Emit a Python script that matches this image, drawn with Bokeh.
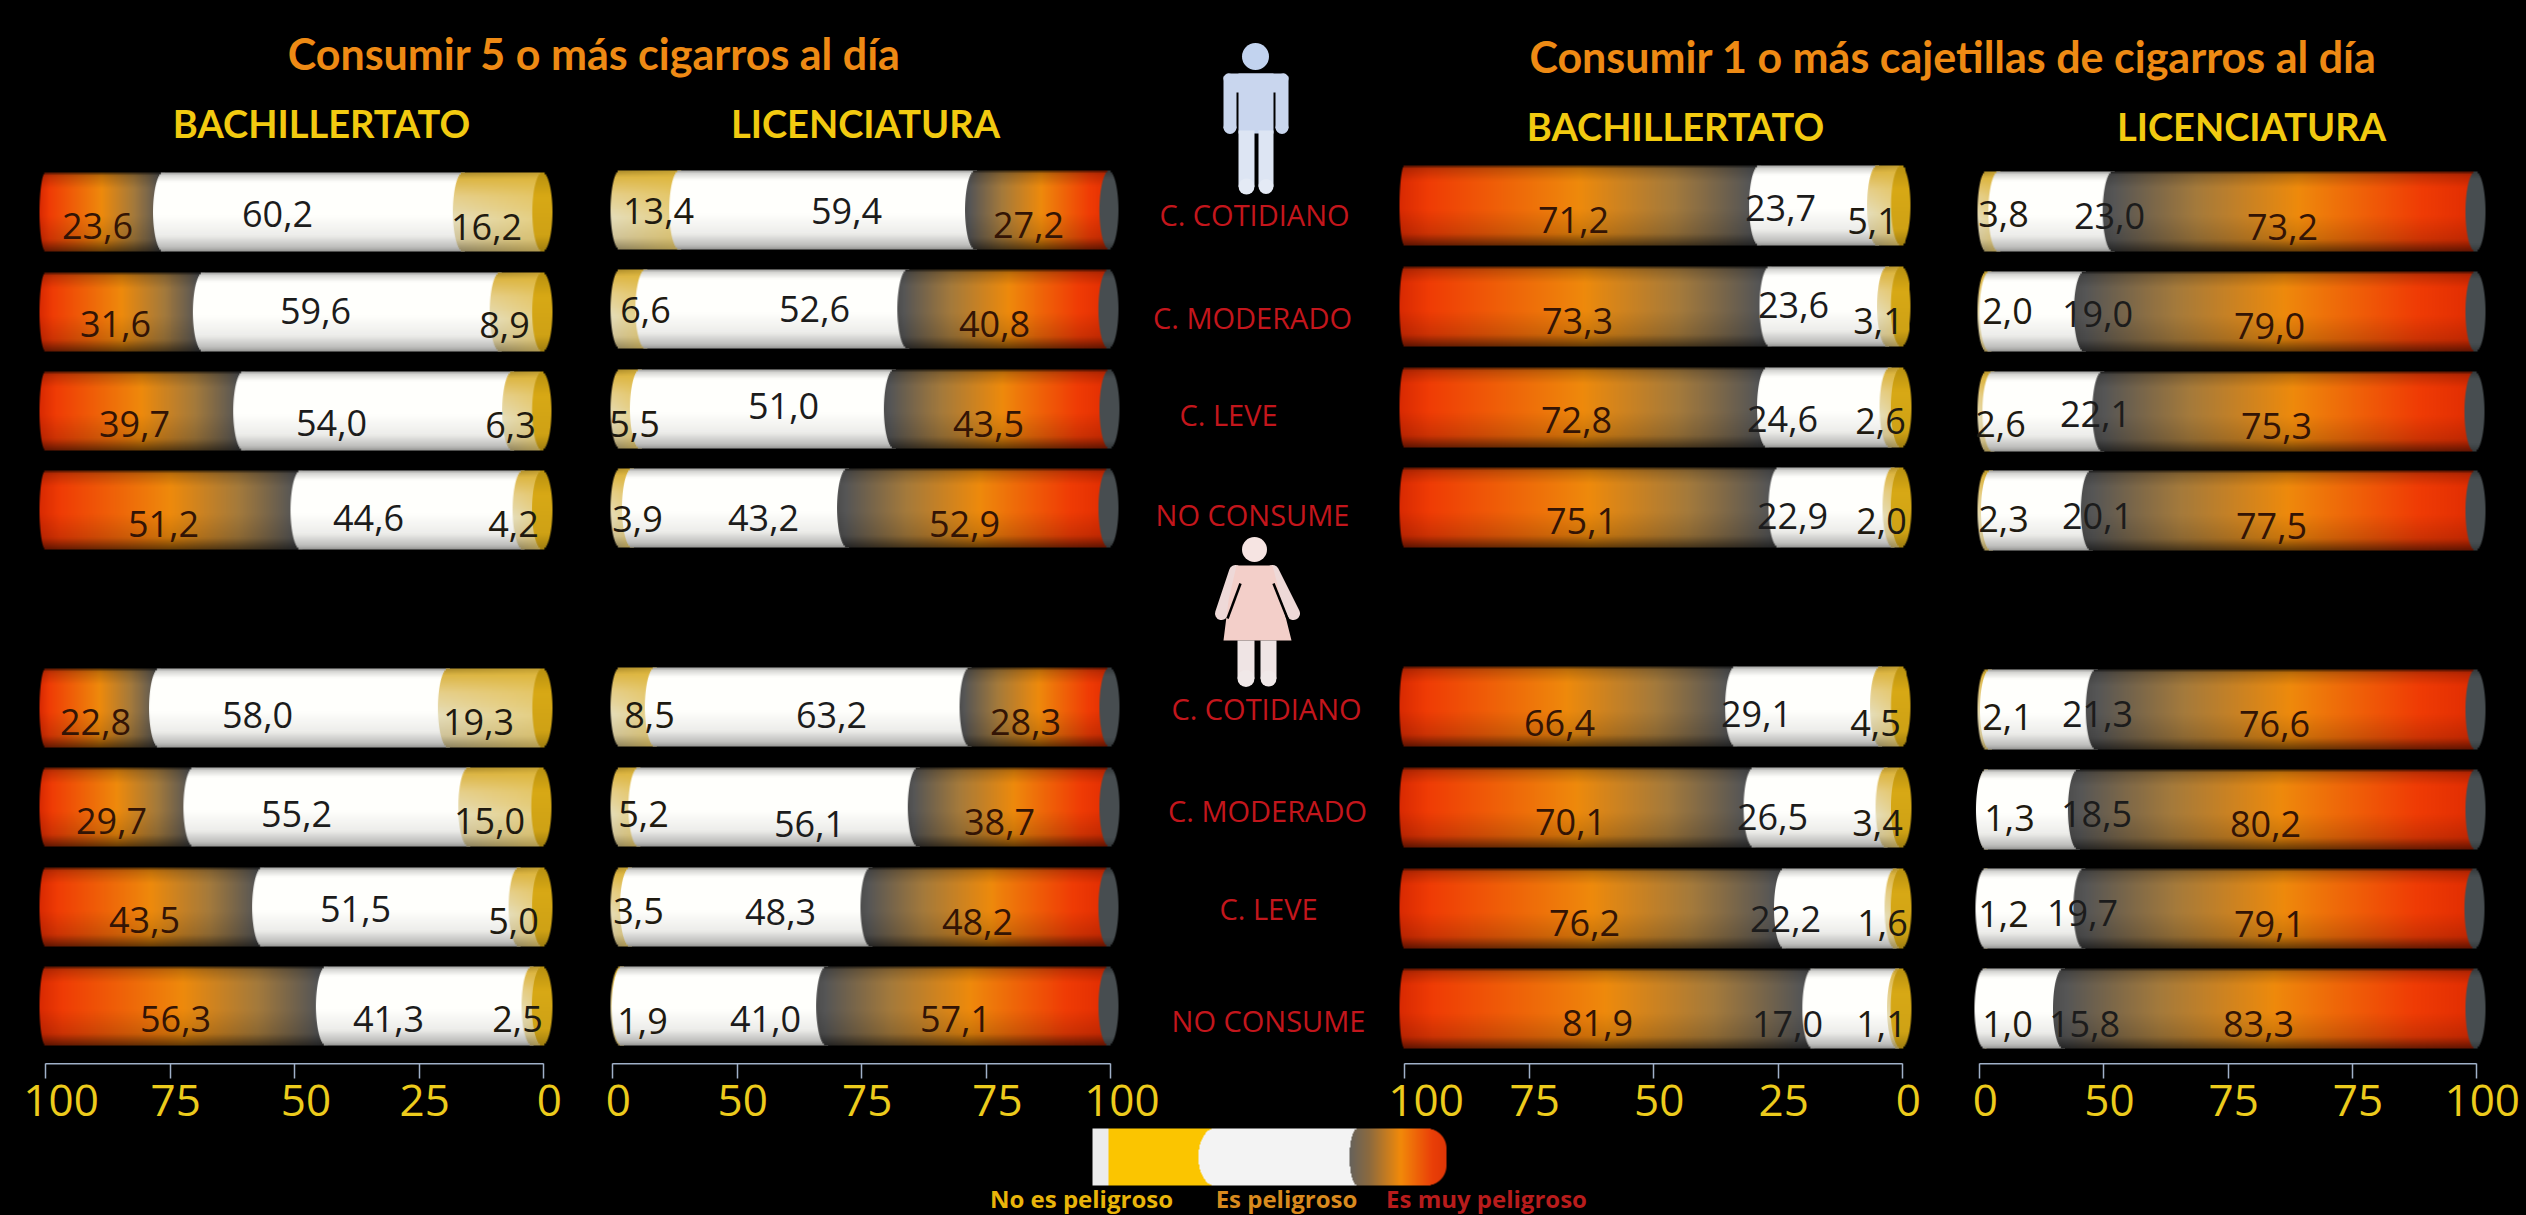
import numpy as np
from bokeh.plotting import figure
from bokeh.layouts import column, row
from bokeh.models import Range1d, FixedTicker, Spacer
from bokeh.core.properties import value
from bokeh.embed import file_html
from bokeh.resources import INLINE

# ---------- DATA ----------
consumo = ["C. COTIDIANO", "C. MODERADO", "C. LEVE", "NO CONSUME"] * 2
# each: [es muy peligroso, es peligroso, no es peligroso]
cig5_bach = [[23.6, 60.2, 16.2], [31.6, 59.6, 8.9], [39.7, 54.0, 6.3], [51.2, 44.6, 4.2],
             [22.8, 58.0, 19.3], [29.7, 55.2, 15.0], [43.5, 51.5, 5.0], [56.3, 41.3, 2.5]]
cig5_lic = [[27.2, 59.4, 13.4], [40.8, 52.6, 6.6], [43.5, 51.0, 5.5], [52.9, 43.2, 3.9],
            [28.3, 63.2, 8.5], [38.7, 56.1, 5.2], [48.2, 48.3, 3.5], [57.1, 41.0, 1.9]]
caj_bach = [[71.2, 23.7, 5.1], [73.3, 23.6, 3.1], [72.8, 24.6, 2.6], [75.1, 22.9, 2.0],
            [66.4, 29.1, 4.5], [70.1, 26.5, 3.4], [76.2, 22.2, 1.6], [81.9, 17.0, 1.1]]
caj_lic = [[73.2, 23.0, 3.8], [79.0, 19.0, 2.0], [75.3, 22.1, 2.6], [77.5, 20.1, 2.3],
           [76.6, 21.3, 2.1], [80.2, 18.5, 1.3], [79.1, 19.7, 1.2], [83.3, 15.8, 1.0]]
ticks_izq = ["100", "75", "50", "25", "0"]
ticks_der = ["0", "50", "75", "75", "100"]
titulos = ["Consumir  5 o más cigarros al día", "Consumir  1  o más cajetillas de cigarros al día"]
niveles = ["BACHILLERTATO", "LICENCIATURA"]
leyenda = ["No es peligroso", "Es peligroso", "Es muy peligroso"]

# ---------- LAYOUT (page pixels) ----------
TOP, MAIN_B, STRIP_B, END = 0, 1063, 1127, 1215
FULL_L, FULL_R = 0, 2526
panels = [
    dict(name="p1", a=45, b=543, flip=True, data=cig5_bach, first_b=6, first_off=0, cap="gold",
         tops=[172, 272, 371, 470, 668, 767, 867, 966], h=79,
         lx=[[97, 277, 486], [115, 315, 504], [134, 331, 510], [163, 368, 513], [95, 257, 478], [111, 296, 489], [144, 355, 513], [175, 388, 517]],
         ly=[[225, 213, 226], [323, 310, 324], [423, 422, 424], [523, 517, 523], [721, 714, 721], [820, 813, 820], [919, 908, 920], [1018, 1018, 1018]]),
    dict(name="p2", a=612, b=1110, flip=False, data=cig5_lic, first_b=9, first_off=7, cap="grey",
         tops=[170, 269, 369, 468, 667, 767, 867, 966], h=79,
         lx=[[1028, 846, 658], [994, 814, 645], [988, 783, 634], [964, 763, 637], [1025, 831, 649], [999, 809, 643], [977, 780, 638], [955, 765, 642]],
         ly=[[224, 210, 210], [323, 308, 309], [423, 405, 423], [523, 517, 518], [721, 714, 714], [821, 823, 813], [921, 911, 910], [1018, 1018, 1020]]),
    dict(name="p3", a=1404, b=1902, flip=True, data=caj_bach, first_b=5, first_off=0, cap="gold",
         tops=[165, 266, 367, 467, 666, 767, 868, 968], h=80,
         lx=[[1573, 1780, 1872], [1577, 1793, 1878], [1576, 1782, 1880], [1581, 1792, 1881], [1559, 1756, 1875], [1570, 1772, 1877], [1584, 1785, 1882], [1597, 1787, 1881]],
         ly=[[219, 207, 220], [320, 304, 320], [419, 418, 420], [520, 515, 520], [722, 713, 722], [821, 816, 822], [922, 918, 922], [1022, 1023, 1023]]),
    dict(name="p4", a=1979, b=2476, flip=False, data=caj_lic, first_b=8, first_off=6, cap="grey",
         tops=[171, 271, 371, 470, 669, 769, 868, 968], h=80,
         lx=[[2282, 2109, 2003], [2269, 2097, 2007], [2276, 2095, 2000], [2271, 2097, 2003], [2274, 2097, 2007], [2265, 2096, 2009], [2269, 2082, 2003], [2258, 2084, 2007]],
         ly=[[226, 215, 213], [325, 313, 310], [425, 413, 423], [525, 515, 518], [723, 713, 716], [823, 813, 817], [923, 912, 913], [1023, 1023, 1023]]),
]
center_x = [1254, 1252, 1228, 1252, 1266, 1267, 1268, 1268]
center_y = [214, 317, 414, 514, 708, 810, 908, 1020]


def hx(c):
    c = c.lstrip("#")
    return [int(c[i:i + 2], 16) for i in (0, 2, 4)]


def ramp(t, pos, cols):
    arr = np.array([hx(c) for c in cols], float)
    return np.stack([np.interp(t, pos, arr[:, i]) for i in range(3)], axis=-1)


ROWS = 40
V = (np.arange(ROWS) + .5) / ROWS


def seg_image(kind, flip, left_edge_top, bulge, end_px, cap=None):
    """kind: muy/es/no. Returns (rgba array, left px, width px)."""
    px0 = left_edge_top - bulge
    px1 = end_px + (10 if cap else 2)
    W = max(2, int(np.ceil(px1 - px0)))
    X = px0 + (np.arange(W) + .5) * (px1 - px0) / W
    XX, VV = np.meshgrid(X, V)
    SS = np.sqrt(np.clip(1 - ((VV - .5) * 2) ** 2, 0, 1))
    U = np.clip((XX - px0) / max(1.0, end_px - px0), 0, 1)
    if kind == "muy":
        if flip:
            col = ramp(U, [0, .08, .5, .76, .97, 1], ["#d92a02", "#f03c05", "#ee8a0c", "#a47a3c", "#565656", "#4e4e4e"])
        else:
            col = ramp(U, [0, .03, .25, .52, .85, 1], ["#4e4e4e", "#565656", "#a47a3c", "#ee8a0c", "#f03c05", "#e02c02"])
        shade = np.interp(VV, [0, .04, .2, .55, .85, 1], [.3, .8, 1, 1, .85, .42])
        col = col * shade[..., None]
    elif kind == "es":
        shade = np.interp(VV, [0, .04, .12, .55, .8, .95, 1], [.62, .85, 1, 1, .93, .74, .58])
        col = np.array([255., 255., 252.])[None, None, :] * shade[..., None]
    else:
        cream = ramp(VV, [0, .08, .3, .6, .85, 1], ["#a8882a", "#dcb545", "#e6cf8a", "#e6deba", "#d0c49c", "#8a8060"])
        gold = np.array(hx("#e3bb38"), float)
        mix = (U * .45)[..., None]
        col = cream * (1 - mix) + gold * mix
    alpha = np.clip(XX - (left_edge_top - bulge * SS) + .5, 0, 1)
    if cap:
        c = end_px - 2
        hw = 10
        outer = c + hw * SS
        inner = c - hw * SS
        alpha = alpha * np.clip(outer - XX + .5, 0, 1)
        if cap == "gold":
            cc = ramp(VV, [0, .3, .8, 1], ["#b8900f", "#d8a915", "#cfa215", "#a07e10"])
        else:
            cc = ramp(VV, [0, .1, .9, 1], ["#33383a", "#474d50", "#474d50", "#33383a"])
        w = np.clip(XX - inner + .5, 0, 1)[..., None]
        col = col * (1 - w) + cc * w
    rgba = np.zeros(XX.shape + (4,), dtype=np.uint8)
    rgba[..., :3] = np.clip(col, 0, 255).astype(np.uint8)
    rgba[..., 3] = (alpha * 255).astype(np.uint8)
    out = np.frombuffer(rgba[::-1].tobytes(), dtype=np.uint32).reshape(ROWS, W)
    return out, px0, px1 - px0


# ---------- MAIN FIGURE ----------
BG = "#000000"
main = figure(width=FULL_R - FULL_L, height=MAIN_B - TOP, output_backend="svg", toolbar_location=None,
              x_range=Range1d(FULL_L, FULL_R), y_range=Range1d(-MAIN_B, -TOP), min_border=0,
              x_axis_location=None, y_axis_location=None, background_fill_color=BG, border_fill_color=BG,
              outline_line_color=None)
main.grid.visible = False

for P in panels:
    k = (P["b"] - P["a"]) / 100.0
    main.extra_x_ranges[P["name"]] = Range1d((FULL_L - P["a"]) / k, (FULL_R - P["a"]) / k)
    imgs, xs, ys, dws, dhs = [], [], [], [], []
    tx, ty, tt, tc = [], [], [], []
    for r, vals in enumerate(P["data"]):
        order = [0, 1, 2] if P["flip"] else [2, 1, 0]
        kinds = ["muy", "es", "no"]
        cum = 0.0
        for j, idx in enumerate(order):
            v = vals[idx]
            start = cum
            end = 100.0 if j == 2 else cum + v
            cum += v
            spx, epx = P["a"] + start * k, P["a"] + end * k
            bulge = P["first_b"] if j == 0 else 10
            off = P["first_off"] if j == 0 else 0
            arr, l, w = seg_image(kinds[idx], P["flip"], spx + off, bulge, epx, cap=P["cap"] if j == 2 else None)
            imgs.append(arr)
            xs.append((l - P["a"]) / k)
            dws.append(w / k)
            ys.append(-(P["tops"][r] + P["h"]))
            dhs.append(P["h"])
        for idx in range(3):
            tx.append((P["lx"][r][idx] - P["a"]) / k)
            ty.append(-P["ly"][r][idx])
            tt.append(f"{vals[idx]:.1f}".replace(".", ","))
            tc.append(["#331405", "#1c1c1c", "#1f1a10"][idx])
    main.image_rgba(image=imgs, x=xs, y=ys, dw=dws, dh=dhs, x_range_name=P["name"])
    main.text(x=tx, y=ty, text=tt, text_color=tc, text_font=value("Open Sans"), text_font_size="36px",
              text_align="center", text_baseline="middle", x_range_name=P["name"])

# titles
main.text(x=[599, 1963], y=[-53, -56], text=titulos, text_color="#ee8a14",
          text_font=value("Lato"), text_font_style="bold", text_font_size="43px",
          text_align="center", text_baseline="middle")
main.text(x=[321, 865, 1675, 2251], y=[-122, -122, -125, -125], text=[niveles[0], niveles[1], niveles[0], niveles[1]],
          text_color="#f2ca10", text_font=value("Lato"), text_font_style="bold", text_font_size="38px",
          text_align="center", text_baseline="middle")
# category labels
main.text(x=center_x, y=[-v for v in center_y], text=consumo, text_color="#c3161c",
          text_font=value("Open Sans"), text_font_size="29px", text_align="center", text_baseline="middle")

# man pictogram
MAN = "#c9d6ee"
main.scatter(x=[1255], y=[-56], size=27, marker="circle", fill_color="#c2d3ef", line_color=None)
main.quad(left=[1223, 1238, 1275], right=[1236, 1273, 1288], top=[-76, -73, -76], bottom=[-128, -133, -128],
          fill_color=MAN, line_color=None)
main.quad(left=[1227], right=[1284], top=[-73], bottom=[-92], fill_color=MAN, line_color=None)
main.scatter(x=[1228, 1283, 1229.5, 1281.5], y=[-78, -78, -127, -127], size=[10, 10, 13, 13], marker="circle",
             fill_color=MAN, line_color=None)
main.quad(left=[1238, 1258], right=[1254, 1273], top=[-130, -130], bottom=[-186, -186], fill_color="#dde5f3", line_color=None)
main.scatter(x=[1246, 1265.5], y=[-186, -186], size=[16, 15], marker="circle", fill_color="#e4eaf5", line_color=None)

# woman pictogram
main.scatter(x=[1254], y=[-549], size=25, marker="circle", fill_color="#f6e4e2", line_color=None)
main.multi_line(xs=[[1235, 1221], [1272, 1293]], ys=[[-571, -613], [-571, -613]], line_width=13, line_cap="round",
                line_color="#eed9d8")
main.patch(x=[1236, 1272, 1281, 1291, 1223, 1228], y=[-565, -565, -600, -640, -640, -600], fill_color="#f3cfc9", line_color=None)
main.multi_line(xs=[[1240, 1227], [1273, 1287]], ys=[[-583, -618], [-583, -618]], line_width=2.5, line_color="#000000")
main.quad(left=[1237, 1260], right=[1254, 1276], top=[-640, -640], bottom=[-678, -678], fill_color="#efe4e4", line_color=None)
main.scatter(x=[1245.5, 1268], y=[-678, -678], size=[17, 16], marker="circle", fill_color="#f0e8e8", line_color=None)


# ---------- AXIS STRIPS ----------
def pad(lbl, n):
    return "\u00a0" * n + lbl


def axis_strip(P, L, R, labels, shifts, axis_y):
    k = (P["b"] - P["a"]) / 100.0
    f = figure(width=R - L, height=STRIP_B - MAIN_B, output_backend="svg", toolbar_location=None,
               x_range=Range1d((L - P["a"]) / k, (R - P["a"]) / k), y_range=Range1d(0, 1),
               min_border=0, min_border_bottom=STRIP_B - axis_y, x_axis_location="below", y_axis_location=None,
               background_fill_color=BG, border_fill_color=BG, outline_line_color=None)
    f.grid.visible = False
    ax = f.xaxis[0]
    ax.bounds = (0, 100)
    ax.ticker = FixedTicker(ticks=[0, 25, 50, 75, 100])
    ax.major_label_overrides = {t: pad(s, n) for t, s, n in zip([0, 25, 50, 75, 100], labels, shifts)}
    ax.axis_line_color = "#9fb0c8"
    ax.axis_line_width = 2
    ax.major_tick_line_color = "#9fb0c8"
    ax.major_tick_line_width = 1.5
    ax.major_tick_in = 0
    ax.major_tick_out = 15
    ax.minor_tick_line_color = None
    ax.major_label_text_color = "#eccb1c"
    ax.major_label_text_font = "Open Sans"
    ax.major_label_text_font_size = "44px"
    ax.major_label_standoff = -10
    return f


strips = row(
    axis_strip(panels[0], 0, 578, ticks_izq, [2, 1, 2, 1, 1], 1063),
    axis_strip(panels[1], 578, 1175, ticks_der, [1, 1, 1, 2, 2], 1063),
    Spacer(width=190, height=STRIP_B - MAIN_B),
    axis_strip(panels[2], 1365, 1940, ticks_izq, [2, 1, 1, 1, 1], 1065),
    axis_strip(panels[3], 1940, 2526, ticks_der, [1, 1, 1, 1, 1], 1065),
)

# ---------- LEGEND ----------
leg = figure(width=FULL_R - FULL_L, height=END - STRIP_B, output_backend="svg", toolbar_location=None,
             x_range=Range1d(FULL_L, FULL_R), y_range=Range1d(-END, -STRIP_B), min_border=0,
             x_axis_location=None, y_axis_location=None, background_fill_color=BG, border_fill_color=BG,
             outline_line_color=None)
leg.grid.visible = False
LW, LH = 354, 57
lx = np.arange(LW) + 1092.5
lv = (np.arange(LH) + .5) / LH
LX, LV = np.meshgrid(lx, lv)
LS = np.sqrt(np.clip(1 - ((LV - .5) * 2) ** 2, 0, 1))
lcol = np.zeros(LX.shape + (3,))
lcol[:] = hx("#fbc500")
lcol[LX < 1108] = hx("#ececec")
m_w = LX > (1214 - 16 * LS)
lcol[m_w] = hx("#f3f3f3")
m_g = LX > (1357 - 8 * LS)
lcol[m_g] = ramp(LX[m_g], [1349, 1368, 1400, 1432, 1446], ["#66625c", "#8a6a40", "#f28a0a", "#ea3f08", "#e03606"])
lalpha = 1 - np.clip(LX - (1426 + 20 * np.sqrt(np.clip(1 - (np.maximum(0, np.abs(LV - .5) * LH - 8.5) / 20) ** 2, 0, 1))) + .5, 0, 1)
lrgba = np.zeros(LX.shape + (4,), dtype=np.uint8)
lrgba[..., :3] = lcol.astype(np.uint8)
lrgba[..., 3] = (lalpha * 255).astype(np.uint8)
larr = np.frombuffer(lrgba[::-1].tobytes(), dtype=np.uint32).reshape(LH, LW)
leg.image_rgba(image=[larr], x=[1092], y=[-1185], dw=[LW], dh=[LH])
leg.text(x=[1081, 1286, 1486], y=[-1198] * 3, text=leyenda, text_color=["#e9b50a", "#d98a1e", "#b81c1c"],
         text_font=value("Open Sans"), text_font_style="bold", text_font_size="24px",
         text_align="center", text_baseline="middle")

page = column(main, strips, leg, spacing=0)
html = file_html(page, INLINE, title="Consumo")
html = html.replace("</head>", "<style>html,body{background:#000000;}</style></head>", 1)
open("out.html", "w").write(html)
